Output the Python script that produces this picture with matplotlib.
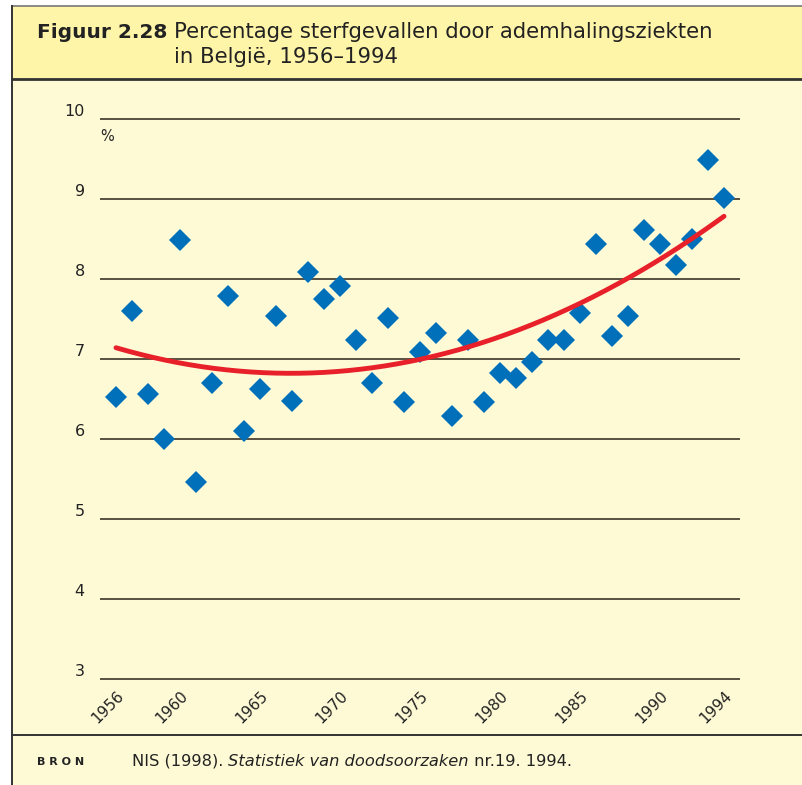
import numpy as np
import matplotlib
matplotlib.use('Agg')
import matplotlib.pyplot as plt
from matplotlib.patches import Rectangle
from matplotlib.lines import Line2D

# Percentage deaths from respiratory disease, Belgium 1956-1994
years = np.arange(1956, 1995)
pct = [6.53, 7.60, 6.56, 6.00, 8.49, 5.46, 6.70, 7.79, 6.10, 6.63,
       7.54, 6.48, 8.09, 7.75, 7.91, 7.24, 6.70, 7.51, 6.46, 7.09,
       7.33, 6.29, 7.24, 6.46, 6.83, 6.76, 6.96, 7.24, 7.24, 7.58,
       8.44, 7.29, 7.54, 8.61, 8.44, 8.18, 8.50, 9.49, 9.01]
xticks = [1956, 1960, 1965, 1970, 1975, 1980, 1985, 1990, 1994]
yticks = [3, 4, 5, 6, 7, 8, 9, 10]

W, H = 802, 785
header_col = '#fff5a8'
body_col = '#fffad6'
blue = '#0070bb'
red = '#e8202a'
grid_col = '#4a4336'

fig = plt.figure(figsize=(W / 100, H / 100), dpi=100)
fig.patch.set_facecolor('white')

def fx(px):
    return px / W

def fy(py):
    return 1 - py / H

# background boxes
fig.patches.append(Rectangle((fx(12), fy(785)), fx(802 - 12), (785 - 79) / H,
                             transform=fig.transFigure, facecolor=body_col,
                             edgecolor='none', zorder=-2))
fig.patches.append(Rectangle((fx(12), fy(79)), fx(802 - 12), (79 - 6) / H,
                             transform=fig.transFigure, facecolor=header_col,
                             edgecolor='none', zorder=-2))
# borders
fig.lines.append(Line2D([fx(12), 1], [fy(6), fy(6)], transform=fig.transFigure,
                        color='#777777', lw=1.2))
fig.lines.append(Line2D([fx(12), fx(12)], [fy(6), 0], transform=fig.transFigure,
                        color='#333333', lw=1.4))
fig.lines.append(Line2D([fx(12), 1], [fy(79), fy(79)], transform=fig.transFigure,
                        color='#333333', lw=2.0))
fig.lines.append(Line2D([fx(12), 1], [fy(735), fy(735)], transform=fig.transFigure,
                        color='#333333', lw=1.4))

# title
fig.text(fx(37), fy(32), 'Figuur 2.28', fontsize=14.5, fontweight='bold',
         color='#222222', va='center', ha='left')
fig.text(fx(174), fy(32), 'Percentage sterfgevallen door ademhalingsziekten',
         fontsize=15.3, color='#222222', va='center', ha='left')
fig.text(fx(174), fy(57), 'in België, 1956–1994',
         fontsize=15.3, color='#222222', va='center', ha='left')

# footer
fig.text(fx(37), fy(762), 'B R O N', fontsize=8, fontweight='bold',
         color='#222222', va='center', ha='left')
pieces = [('NIS (1998). ', 'normal'), ('Statistiek van doodsoorzaken', 'italic'),
          (' nr.19. 1994.', 'normal')]
xpos = 132
for s, st in pieces:
    t = fig.text(fx(xpos), fy(761), s, fontsize=11.7, fontstyle=st,
                 color='#222222', va='center', ha='left')
    fig.canvas.draw()
    xpos = t.get_window_extent(fig.canvas.get_renderer()).x1

# chart
ax = fig.add_axes([fx(100), fy(681), fx(740 - 100), (681 - 117) / H])
ax.set_zorder(2)
ax.set_facecolor('none')
ax.set_xlim(1955, 1995)
ax.set_ylim(2.975, 10.025)
for y in yticks:
    ax.axhline(y, color=grid_col, lw=1.3, zorder=1)

ax.plot(years, pct, linestyle='none', marker='D', ms=11.5, color=blue,
        markeredgewidth=0, zorder=3)

# quadratic trend line fitted to the points
coef = np.polyfit(years - 1975, pct, 2)
xs = np.linspace(1956, 1994, 200)
ax.plot(xs, np.polyval(coef, xs - 1975), color=red, lw=3.5,
        solid_capstyle='round', zorder=4)

for s in ax.spines.values():
    s.set_visible(False)
ax.set_yticks(yticks)
ax.set_yticklabels([str(v) for v in yticks], fontsize=11.5, color='#222222')
ax.tick_params(axis='y', length=0, pad=11)
for lab in ax.get_yticklabels():
    lab.set_verticalalignment('bottom')
ax.set_xticks(xticks)
ax.set_xticklabels([str(v) for v in xticks], fontsize=11, color='#222222',
                   rotation=45, ha='right', va='top', rotation_mode='anchor')
ax.tick_params(axis='x', length=0, pad=5)
ax.text(0.0, 9.78, '%', fontsize=10.5, color='#222222', va='center', ha='left',
        transform=ax.get_yaxis_transform())

fig.savefig('out.png', dpi=100, facecolor=fig.get_facecolor())
